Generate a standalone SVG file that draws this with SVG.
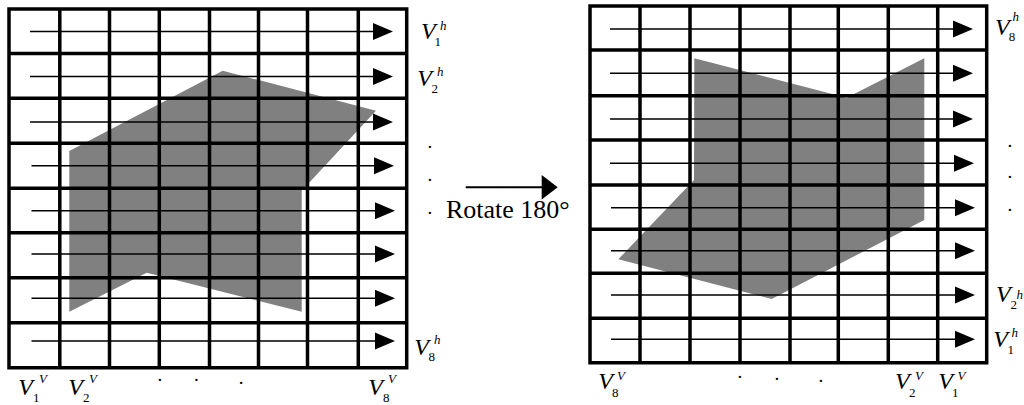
<svg xmlns="http://www.w3.org/2000/svg" width="1024" height="405" viewBox="0 0 1024 405">
<style>
.grid{fill:none;stroke:#000;stroke-width:3.5;stroke-linecap:square}
.shape{fill:#808080;stroke:none}
.arr{stroke:#000;stroke-width:1.5;fill:none}
.head{fill:#000}
text{font-family:"Liberation Serif","Times New Roman",serif;fill:#000}
.v{font-style:italic;font-size:24px}
.sb{font-size:13px}
.sp{font-style:italic;font-size:13px}
.lbl{font-size:26px}
.dot{font-size:19px}
</style>
<rect width="1024" height="405" fill="#fff"/>
<g id="left-grid">
<polygon class="shape" points="69.3,151 222.7,70.7 376,110.7 301.7,190.7 301.7,311.7 146.7,272.7 69.3,311.7"/>
<path class="grid" d="M9,9V367.7M59.8,9V367.7M109.5,9V367.7M159.3,9V367.7M209.5,9V367.7M258.5,9V367.7M307.5,9V367.7M358.3,9V367.7M406.7,9V367.7M9,9H406.7M9,53.5H406.7M9,98.3H406.7M9,143.3H406.7M9,188.3H406.7M9,232.7H406.7M9,277.7H406.7M9,322.7H406.7M9,367.7H406.7"/>
</g>
<g id="right-grid">
<polygon class="shape" points="694.3,58.3 846.7,97.7 924.3,58.3 924.3,220 771.7,299 618.3,259.3 694,180"/>
<path class="grid" d="M590,6V362.7M640,6V362.7M690,6V362.7M740,6V362.7M790,6V362.7M838.3,6V362.7M888.3,6V362.7M937.7,6V362.7M986.7,6V362.7M590,6H986.7M590,50H986.7M590,95.7H986.7M590,140H986.7M590,185H986.7M590,229.3H986.7M590,273.3H986.7M590,318.3H986.7M590,362.7H986.7"/>
</g>
<g id="connectors">
<g id="left-arrows">
<path class="arr" d="M30,31.5H380M30,76.5H380M30,122H380M31.5,165.7H380M31.5,210.7H380M31.5,254H380M31.5,298.3H380M31.5,341H380"/>
<path class="head" d="M373,23L393,31.5L373,40ZM373,68L393,76.5L373,85ZM373,113.5L393,122L373,130.5ZM374,157.2L394,165.7L374,174.2ZM375,202.2L395,210.7L375,219.2ZM375,245.5L395,254L375,262.5ZM375,289.8L395,298.3L375,306.8ZM375,332.5L395,341L375,349.5Z"/>
</g>
<g id="right-arrows">
<path class="arr" d="M610,29H960M610,73.3H960M610,119H960M610,163.3H960M611,207.7H960M611,250.7H960M611,295H960M611,339.3H960"/>
<path class="head" d="M953,20.5L973,29L953,37.5ZM953,64.8L973,73.3L953,81.8ZM953,110.5L973,119L953,127.5ZM954,154.8L974,163.3L954,171.8ZM955,199.2L975,207.7L955,216.2ZM955,242.2L975,250.7L955,259.2ZM955,286.5L975,295L955,303.5ZM955,330.8L975,339.3L955,347.8Z"/>
</g>
<g id="rotate-arrow">
<path class="arr" style="stroke-width:2" d="M465.7,187.3H545"/>
<path class="head" d="M541.7,175L557.7,187.3L541.7,199.5Z"/>
</g>
</g>
<g id="rotate-label">
<text class="lbl" x="446" y="218.3">Rotate 180°</text>
</g>
<g id="left-labels">
<text class="v" x="421" y="39.3">V</text><text class="sb" x="434.5" y="45.5">1</text><text class="sp" x="440" y="30">h</text>
<text class="v" x="417.3" y="86">V</text><text class="sb" x="431.5" y="93">2</text><text class="sp" x="437" y="76">h</text>
<text class="dot" x="427.5" y="148">.</text><text class="dot" x="427.5" y="181">.</text><text class="dot" x="427.5" y="214">.</text>
<text class="v" x="414.3" y="355">V</text><text class="sb" x="428.5" y="361">8</text><text class="sp" x="434" y="344">h</text>
<text class="v" x="18.3" y="395">V</text><text class="sb" x="33" y="402">1</text><text class="sp" x="39" y="383.3">V</text>
<text class="v" x="68.3" y="395">V</text><text class="sb" x="83" y="402">2</text><text class="sp" x="89" y="383.3">V</text>
<text class="dot" x="157.5" y="381">.</text><text class="dot" x="194" y="381">.</text><text class="dot" x="238.8" y="383.5">.</text>
<text class="v" x="368.3" y="395">V</text><text class="sb" x="383" y="402">8</text><text class="sp" x="388" y="383.3">V</text>
</g>
<g id="right-labels">
<text class="v" x="995" y="35">V</text><text class="sb" x="1008.8" y="41">8</text><text class="sp" x="1012.5" y="21">h</text>
<text class="dot" x="1007.5" y="147">.</text><text class="dot" x="1007.5" y="178">.</text><text class="dot" x="1007.5" y="211">.</text>
<text class="v" x="996" y="301.7">V</text><text class="sb" x="1010.5" y="308.5">2</text><text class="sp" x="1016.5" y="299">h</text>
<text class="v" x="993.3" y="346.7">V</text><text class="sb" x="1007.5" y="354">1</text><text class="sp" x="1011.5" y="337.3">h</text>
<text class="v" x="598.3" y="389.3">V</text><text class="sb" x="612" y="397">8</text><text class="sp" x="617" y="380">V</text>
<text class="dot" x="737.5" y="377.5">.</text><text class="dot" x="774.5" y="379.5">.</text><text class="dot" x="818.5" y="381.8">.</text>
<text class="v" x="895" y="389.3">V</text><text class="sb" x="909" y="397">2</text><text class="sp" x="915" y="380">V</text>
<text class="v" x="938.3" y="389.3">V</text><text class="sb" x="952" y="397">1</text><text class="sp" x="957.5" y="380">V</text>
</g>
</svg>
